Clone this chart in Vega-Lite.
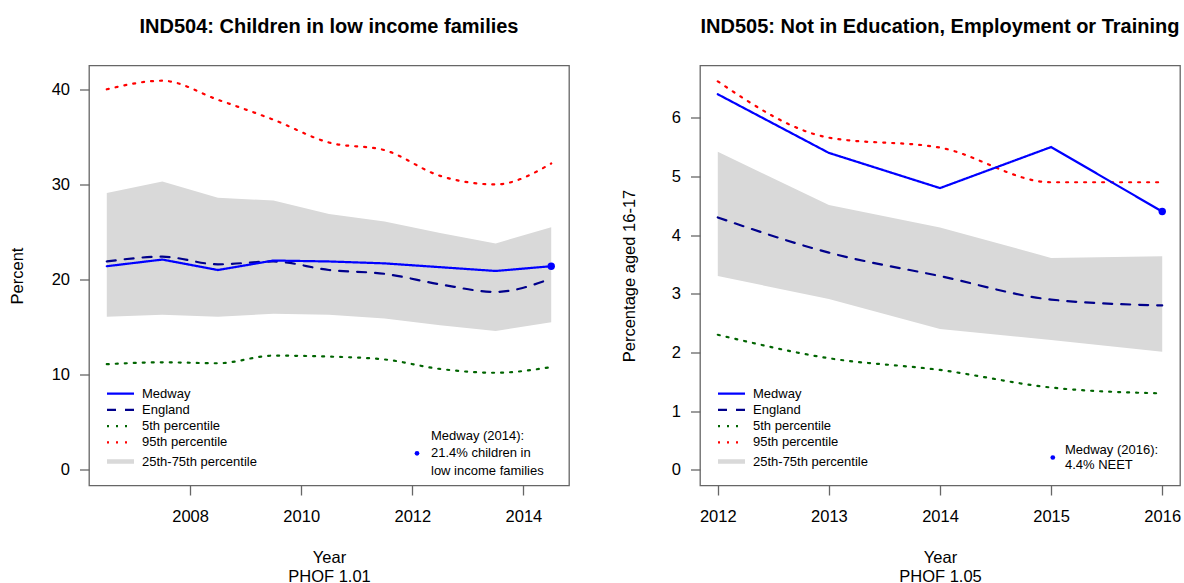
{
  "$schema": "https://vega.github.io/schema/vega-lite/v6.json",
  "background": "white",
  "padding": {"left": 8, "top": 15.5, "right": 0, "bottom": 8},
  "bounds": "flush",
  "spacing": 131,
  "resolve": {"scale": {"stroke": "independent", "strokeDash": "independent", "fill": "independent"}},
  "config": {
    "font": "Liberation Sans",
    "view": {"stroke": "#666666", "strokeWidth": 1.3},
    "axis": {"domain": false, "grid": false, "tickColor": "#666666", "tickWidth": 1.3, "tickSize": 9.5, "labelColor": "#000000", "labelFontSize": 16.5, "titleFontSize": 16.5, "titleFontWeight": "normal", "titleColor": "#000000", "labelFlush": false},
    "axisX": {"labelPadding": 13.5, "titlePadding": 24, "titleLineHeight": 19},
    "axisY": {"labelPadding": 10},
    "title": {"fontSize": 20, "fontWeight": "bold", "color": "#000000", "offset": 29, "anchor": "middle"},
    "legend": {"labelFontSize": 13, "labelColor": "#000000", "padding": 0, "labelLimit": 400}
  },
  "hconcat": [
    {
      "width": 480,
      "height": 420,
      "title": {"text": "IND504: Children in low income families"},
      "data": {"values": [
        {"year": 2006.5, "medway": 21.4, "england": 21.9, "p5": 11.1, "p95": 40.0, "p25": 16.1, "p75": 29.1},
        {"year": 2007.5, "medway": 22.1, "england": 22.4, "p5": 11.3, "p95": 40.9, "p25": 16.3, "p75": 30.3},
        {"year": 2008.5, "medway": 21.0, "england": 21.6, "p5": 11.2, "p95": 38.9, "p25": 16.1, "p75": 28.6},
        {"year": 2009.5, "medway": 22.0, "england": 21.9, "p5": 12.0, "p95": 36.8, "p25": 16.4, "p75": 28.3},
        {"year": 2010.5, "medway": 21.9, "england": 21.0, "p5": 11.9, "p95": 34.4, "p25": 16.3, "p75": 26.9},
        {"year": 2011.5, "medway": 21.7, "england": 20.6, "p5": 11.6, "p95": 33.6, "p25": 15.9, "p75": 26.1},
        {"year": 2012.5, "medway": 21.3, "england": 19.5, "p5": 10.6, "p95": 30.9, "p25": 15.2, "p75": 24.9},
        {"year": 2013.5, "medway": 20.9, "england": 18.7, "p5": 10.2, "p95": 30.0, "p25": 14.6, "p75": 23.8},
        {"year": 2014.5, "medway": 21.4, "england": 20.1, "p5": 10.8, "p95": 32.2, "p25": 15.5, "p75": 25.5}
      ]},
      "encoding": {
        "x": {"field": "year", "type": "quantitative",
          "scale": {"domain": [2006.18, 2014.82], "nice": false, "zero": false},
          "axis": {"values": [2008, 2010, 2012, 2014], "format": "d", "title": ["Year", "PHOF 1.01"]}}
      },
      "layer": [
        {
          "mark": {"type": "area", "color": "#D9D9D9", "opacity": 1},
          "encoding": {
            "y": {"field": "p25", "type": "quantitative",
              "scale": {"domain": [-1.65, 42.5], "nice": false, "zero": false},
              "axis": {"values": [0, 10, 20, 30, 40], "format": "d", "title": "Percent", "titlePadding": 25.8}},
            "y2": {"field": "p75"}
          }
        },
        {
          "transform": [{"fold": ["p5", "p95", "england"], "as": ["series", "value"]}],
          "mark": {"type": "line", "interpolate": "monotone", "strokeWidth": 2.2, "strokeCap": "round"},
          "encoding": {
            "y": {"field": "value", "type": "quantitative"},
            "stroke": {"field": "series", "type": "nominal",
              "scale": {"domain": ["medway", "england", "p5", "p95", "band"], "range": ["#0000FF", "#00008B", "#006400", "#FF0000", "#D9D9D9"]},
              "legend": {"orient": "none", "legendX": 25, "legendY": 321.7, "title": null, "symbolType": "stroke", "symbolSize": 729, "symbolStrokeWidth": {"expr": "datum.value === 'band' ? 4.5 : 2.2"}, "labelOffset": 15, "rowPadding": 2.2,
                "labelExpr": "datum.label == 'medway' ? 'Medway' : datum.label == 'england' ? 'England' : datum.label == 'p5' ? '5th percentile' : datum.label == 'p95' ? '95th percentile' : '25th-75th percentile'"}},
            "strokeDash": {"field": "series", "type": "nominal",
              "scale": {"domain": ["medway", "england", "p5", "p95", "band"], "range": [[1, 0], [9, 9], [2, 7], [2, 7], [1, 0]]}}
          }
        },
        {
          "transform": [{"fold": ["medway"], "as": ["series", "value"]}],
          "mark": {"type": "line", "strokeWidth": 2.2, "strokeCap": "round"},
          "encoding": {
            "y": {"field": "value", "type": "quantitative"},
            "stroke": {"field": "series", "type": "nominal"},
            "strokeDash": {"field": "series", "type": "nominal"}
          }
        },
        {
          "data": {"values": [{"year": 2014.5, "value": 21.4, "note": "\u00a021.4% children in"}]},
          "mark": {"type": "point", "filled": true, "size": 55, "opacity": 1},
          "encoding": {
            "y": {"field": "value", "type": "quantitative"},
            "fill": {"field": "note", "type": "nominal",
              "scale": {"domain": ["Medway (2014):", "\u00a021.4% children in", "low income families"], "range": ["transparent", "#0000FF", "transparent"]},
              "legend": {"orient": "none", "legendX": 321.5, "legendY": 364, "title": null, "symbolType": "circle", "symbolSize": 22, "labelOffset": 7.5, "rowPadding": 3.3}}
          }
        }
      ]
    },
    {
      "width": 480,
      "height": 420,
      "title": {"text": "IND505: Not in Education, Employment or Training"},
      "data": {"values": [
        {"year": 2012, "medway": 6.4, "england": 4.3, "p5": 2.3, "p95": 6.62, "p25": 3.3, "p75": 5.42},
        {"year": 2013, "medway": 5.4, "england": 3.7, "p5": 1.9, "p95": 5.66, "p25": 2.91, "p75": 4.51},
        {"year": 2014, "medway": 4.8, "england": 3.3, "p5": 1.7, "p95": 5.49, "p25": 2.4, "p75": 4.13},
        {"year": 2015, "medway": 5.5, "england": 2.9, "p5": 1.4, "p95": 4.9, "p25": 2.21, "p75": 3.61},
        {"year": 2016, "medway": 4.4, "england": 2.8, "p5": 1.3, "p95": 4.9, "p25": 2.01, "p75": 3.64}
      ]},
      "encoding": {
        "x": {"field": "year", "type": "quantitative",
          "scale": {"domain": [2011.84, 2016.16], "nice": false, "zero": false},
          "axis": {"values": [2012, 2013, 2014, 2015, 2016], "format": "d", "title": ["Year", "PHOF 1.05"]}}
      },
      "layer": [
        {
          "mark": {"type": "area", "color": "#D9D9D9", "opacity": 1},
          "encoding": {
            "y": {"field": "p25", "type": "quantitative",
              "scale": {"domain": [-0.27, 6.89], "nice": false, "zero": false},
              "axis": {"values": [0, 1, 2, 3, 4, 5, 6], "format": "d", "title": "Percentage aged 16-17", "titlePadding": 33.8}},
            "y2": {"field": "p75"}
          }
        },
        {
          "transform": [{"fold": ["p5", "p95", "england"], "as": ["series", "value"]}],
          "mark": {"type": "line", "interpolate": "monotone", "strokeWidth": 2.2, "strokeCap": "round"},
          "encoding": {
            "y": {"field": "value", "type": "quantitative"},
            "stroke": {"field": "series", "type": "nominal",
              "scale": {"domain": ["medway", "england", "p5", "p95", "band"], "range": ["#0000FF", "#00008B", "#006400", "#FF0000", "#D9D9D9"]},
              "legend": {"orient": "none", "legendX": 25, "legendY": 321.7, "title": null, "symbolType": "stroke", "symbolSize": 729, "symbolStrokeWidth": {"expr": "datum.value === 'band' ? 4.5 : 2.2"}, "labelOffset": 15, "rowPadding": 2.2,
                "labelExpr": "datum.label == 'medway' ? 'Medway' : datum.label == 'england' ? 'England' : datum.label == 'p5' ? '5th percentile' : datum.label == 'p95' ? '95th percentile' : '25th-75th percentile'"}},
            "strokeDash": {"field": "series", "type": "nominal",
              "scale": {"domain": ["medway", "england", "p5", "p95", "band"], "range": [[1, 0], [9, 9], [2, 7], [2, 7], [1, 0]]}}
          }
        },
        {
          "transform": [{"fold": ["medway"], "as": ["series", "value"]}],
          "mark": {"type": "line", "strokeWidth": 2.2, "strokeCap": "round"},
          "encoding": {
            "y": {"field": "value", "type": "quantitative"},
            "stroke": {"field": "series", "type": "nominal"},
            "strokeDash": {"field": "series", "type": "nominal"}
          }
        },
        {
          "data": {"values": [{"year": 2016, "value": 4.4, "note": "Medway (2016):|4.4% NEET"}]},
          "mark": {"type": "point", "filled": true, "size": 55, "opacity": 1},
          "encoding": {
            "y": {"field": "value", "type": "quantitative"},
            "fill": {"field": "note", "type": "nominal", "scale": {"range": ["#0000FF"]},
              "legend": {"orient": "none", "legendX": 346.3, "legendY": 385.5, "title": null, "symbolType": "circle", "symbolSize": 22, "labelOffset": 5.6, "labelBaseline": "line-bottom", "labelExpr": "split(datum.label, '|')"}}
          }
        }
      ]
    }
  ]
}
